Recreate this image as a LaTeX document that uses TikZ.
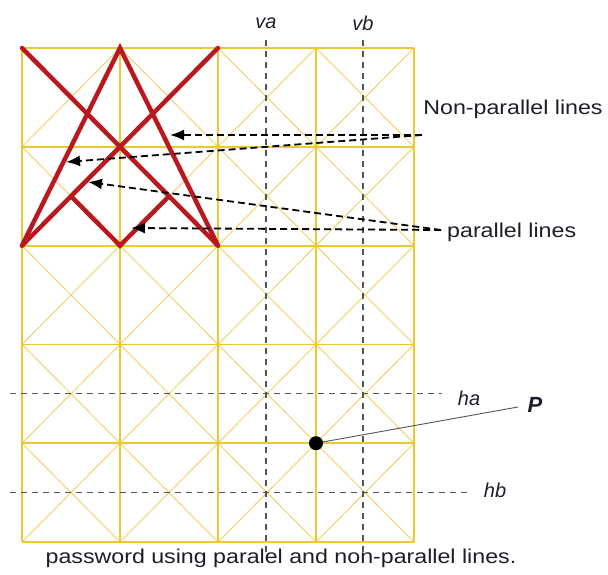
\documentclass[tikz,border=0pt]{standalone}
\usepackage{fontspec}
\setmainfont{Liberation Sans}
\usepackage{graphicx}
\usetikzlibrary{arrows.meta,calc}
\definecolor{PwYellow}{RGB}{236,200,52}
\definecolor{PwPaleYellow}{RGB}{238,212,115}
\definecolor{PwRed}{RGB}{184,24,30}
\definecolor{PwGray}{RGB}{85,85,85}
\definecolor{PwInk}{RGB}{30,30,40}
\tikzset{
  pw/edge/.style={draw=PwYellow, line width=1.8pt},
  pw/diag/.style={draw=PwPaleYellow, line width=1pt},
  pw/stroke/.style={draw=PwRed, line width=4.5pt, line cap=round},
  pw/guide/.style={draw=PwGray, line width=1.3pt, dash pattern=on 6pt off 5pt},
  pw/arrow/.style={-{Latex[length=14pt,width=11pt]}, draw=black, line width=1.8pt, dash pattern=on 7pt off 4pt},
  pw/label/.style={font=\fontsize{20}{24}\selectfont, text=PwInk, inner sep=0pt, anchor=base},
  pw/axis/.style={font=\fontsize{20}{24}\selectfont\itshape, text=PwInk, inner sep=0pt, anchor=base},
  pw/dot/.style={circle, fill=black, inner sep=0pt, minimum size=14pt}
}
\newcommand{\pwtext}[1]{\scalebox{1.16}[1]{#1}}

\begin{document}
\begin{tikzpicture}[x=1pt,y=-1pt]
  \useasboundingbox (0,0) rectangle (608,575);
  % grid points
  \foreach \i in {0,...,4}
    \foreach \j in {0,...,5}
      \coordinate (g\i\j) at ({22+98*\i},{48+98.8*\j});
  % cell diagonals
  \foreach \i in {0,...,3}
    \foreach \j in {0,...,4} {
      \draw[pw/diag] ({22+98*\i},{48+98.8*\j}) -- ++(98,98.8);
      \draw[pw/diag] ({120+98*\i},{48+98.8*\j}) -- ++(-98,98.8);
    }
  % cell edges
  \foreach \i in {0,...,4} \draw[pw/edge] (g\i0) -- (g\i5);
  \foreach \j in {0,...,5} \draw[pw/edge] (g0\j) -- (g4\j);

  % the drawn password
  \draw[pw/stroke] (g00) -- (g22);
  \draw[pw/stroke] (g20) -- (g02);
  \draw[pw/stroke] (g02) -- (g10) -- (g22);
  \draw[pw/stroke] ($(g01)!0.5!(g12)$) -- (g12) -- ($(g11)!0.5!(g22)$);

  % guide lines
  \node[pw/axis] (va) at (266,29) {va};
  \node[pw/axis] (vb) at (363,31) {vb};
  \node[pw/axis] (ha) at (469,405) {ha};
  \node[pw/axis] (hb) at (495,497) {hb};
  \draw[pw/guide] (266,40) -- (266,552);
  \draw[pw/guide] (363,40) -- (363,552);
  \draw[pw/guide] (10,393.8) -- (442,393.8);
  \draw[pw/guide] (10,492.6) -- (467,492.6);

  % point P
  \node[pw/dot] (pt) at (g34) {};
  \node[pw/axis, font=\fontsize{22}{26}\selectfont\bfseries\itshape] (plabel) at (535,412) {P};
  \coordinate (pend) at (518,407);
  \draw[PwGray, line width=0.9pt] (pt) -- (pend);

  % callouts
  \node[pw/label] (nonpar) at (513,115) {\pwtext{Non-parallel lines}};
  \node[pw/label, anchor=base west] (par) at (447,237) {\pwtext{parallel lines}};
  \coordinate (npstart) at (422,135);
  \coordinate (pstart) at (441,230);
  \coordinate (np1) at (170,135);
  \coordinate (np2) at (66,162);
  \coordinate (p1) at (88,182);
  \coordinate (p2) at (131,228);
  \draw[pw/arrow] (npstart) -- (np1);
  \draw[pw/arrow] (npstart) -- (np2);
  \draw[pw/arrow] (pstart) -- (p1);
  \draw[pw/arrow] (pstart) -- (p2);

  \node[pw/label] (caption) at (281,563) {\pwtext{password using paralel and non-parallel lines.}};
\end{tikzpicture}
\end{document}
